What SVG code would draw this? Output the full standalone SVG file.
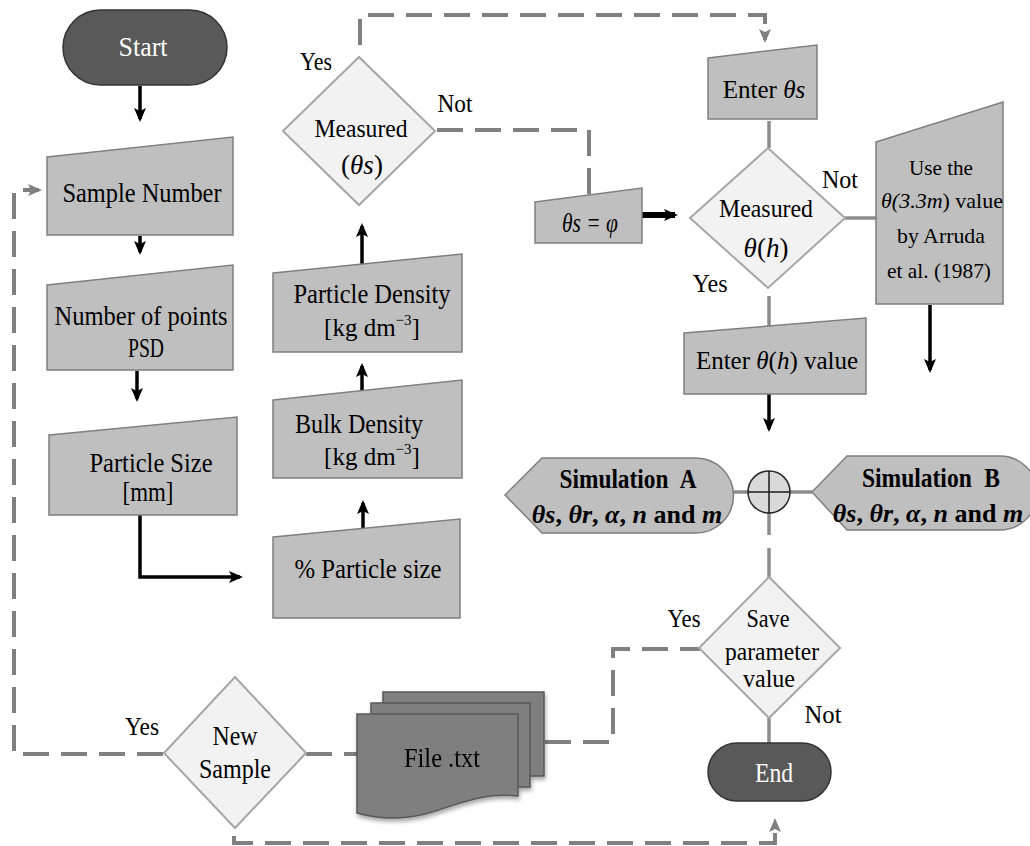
<svg xmlns="http://www.w3.org/2000/svg" width="1030" height="846" viewBox="0 0 1030 846">
<defs>
<marker id="ab" markerUnits="userSpaceOnUse" markerWidth="14" markerHeight="14" viewBox="0 0 14 14" refX="11" refY="7" orient="auto"><path d="M0,1 L14,7 L0,13 L3,7 Z" fill="#000"/></marker>
<marker id="ag" markerUnits="userSpaceOnUse" markerWidth="14" markerHeight="14" viewBox="0 0 14 14" refX="11" refY="7" orient="auto"><path d="M0,1 L14,7 L0,13 L3,7 Z" fill="#808080"/></marker>
<filter id="sh" x="-10%" y="-10%" width="130%" height="140%"><feDropShadow dx="1" dy="3" stdDeviation="2" flood-color="#000" flood-opacity="0.35"/></filter>
</defs>
<style>
text{font-family:'Liberation Serif','DejaVu Serif',serif}
.t{font-size:27px;fill:#000;text-anchor:middle}
.d{font-size:25px}
.m{font-size:25px}
.u{font-size:22px}
.w{fill:#fff;font-size:28px}
.sb{font-weight:bold;font-size:28px}
.s2{font-size:26px}
.i{font-style:italic}
.sup{font-size:15px}
.io{fill:#bfbfbf;stroke:#7f7f7f;stroke-width:1.5}
.dm{fill:#f2f2f2;stroke:#a6a6a6;stroke-width:2}
.term{fill:#595959;stroke:#333;stroke-width:1.5}
.blk{fill:none;stroke:#000;stroke-width:3.5;marker-end:url(#ab)}
.gs{fill:none;stroke:#8c8c8c;stroke-width:3.5}
.gd{fill:none;stroke:#808080;stroke-width:4;stroke-dasharray:26 12}
.fp{fill:#7f7f7f;stroke:#595959;stroke-width:1.5}
</style>

<g id="connectors">
<path class="blk" d="M140,86 V119"/>
<path class="blk" d="M140,236 V252"/>
<path class="blk" d="M137,371 V399"/>
<path class="blk" d="M140,515 V577 H240"/>
<path class="blk" d="M363,528 V503"/>
<path class="blk" d="M362,391 V366"/>
<path class="blk" d="M362,264 V226"/>
<path class="blk" style="stroke-width:6" d="M642,215 H675"/>
<path class="blk" d="M930,305 V370"/>
<path class="blk" d="M769,394 V429"/>
<path class="gs" d="M769,121 V148"/>
<path class="gs" d="M845,218 H877"/>
<path class="gs" d="M769,296 V326"/>
<path class="gs" d="M733,492 H749"/>
<path class="gs" d="M789,492 H812"/>
<path class="gs" d="M769,512 V535"/>
<path class="gs" d="M769,548 V578"/>
<path class="gs" d="M769,718 V743"/>
<path class="gd" style="marker-end:url(#ag)" d="M360,45 V15 H765 V40"/>
<path class="gd" d="M437,130 H589 V195"/>
<path class="gd" style="marker-end:url(#ag)" d="M163,754 H14 V190 H39"/>
<path class="gd" d="M306,754 H357"/>
<path class="gd" d="M545,742 H613 V649 H700"/>
<path class="gd" style="marker-end:url(#ag)" d="M234,836 V843 H775 V821"/>
</g>

<g id="start">
<rect class="term" x="63" y="10" width="164" height="75" rx="37.5"/>
<text class="t w" x="143" y="56" textLength="49" lengthAdjust="spacingAndGlyphs">Start</text>
</g>

<g id="sample-number">
<polygon class="io" points="47,157 233,137 233,235 47,235"/>
<text class="t" x="142" y="202" textLength="159" lengthAdjust="spacingAndGlyphs">Sample Number</text>
</g>

<g id="number-points">
<polygon class="io" points="47,285 233,265 233,370 47,370"/>
<text class="t" x="141" y="325" textLength="173" lengthAdjust="spacingAndGlyphs">Number of points</text>
<text class="t" x="146" y="357" textLength="36" lengthAdjust="spacingAndGlyphs">PSD</text>
</g>

<g id="particle-size">
<polygon class="io" points="49,435 237,417 237,515 49,515"/>
<text class="t" x="151" y="472" textLength="123" lengthAdjust="spacingAndGlyphs">Particle Size</text>
<text class="t" x="148" y="501" textLength="51" lengthAdjust="spacingAndGlyphs">[mm]</text>
</g>

<g id="pct-particle-size">
<polygon class="io" points="273,537 460,519 460,618 273,618"/>
<text class="t" x="368" y="578" textLength="147" lengthAdjust="spacingAndGlyphs">% Particle size</text>
</g>

<g id="bulk-density">
<polygon class="io" points="273,400 462,380 462,478 273,478"/>
<text class="t" x="359" y="433" textLength="128" lengthAdjust="spacingAndGlyphs">Bulk Density</text>
<text class="t m" x="372" y="465">[kg dm<tspan class="sup" dy="-11">−3</tspan><tspan dy="11">]</tspan></text>
</g>

<g id="particle-density">
<polygon class="io" points="273,273 462,254 462,352 273,352"/>
<text class="t" x="372" y="303" textLength="157" lengthAdjust="spacingAndGlyphs">Particle Density</text>
<text class="t m" x="372" y="336">[kg dm<tspan class="sup" dy="-11">−3</tspan><tspan dy="11">]</tspan></text>
</g>

<g id="measured-thetas">
<polygon class="dm" points="283,131 359,57 435,131 359,205"/>
<text class="t d" x="361" y="137" textLength="93" lengthAdjust="spacingAndGlyphs">Measured</text>
<text class="t" x="362" y="174">(<tspan class="i">θs</tspan>)</text>
<text class="t d" x="316" y="70" textLength="32" lengthAdjust="spacingAndGlyphs">Yes</text>
<text class="t d" x="455" y="112" textLength="35" lengthAdjust="spacingAndGlyphs">Not</text>
</g>

<g id="thetas-phi">
<polygon class="io" points="535,202 642,188 642,243 535,243"/>
<text class="t i" x="590" y="232" textLength="56" lengthAdjust="spacingAndGlyphs" style="font-size:28px">θs = φ</text>
</g>

<g id="enter-thetas">
<polygon class="io" points="708,58 817,45 817,119 708,119"/>
<text class="t m" x="764" y="98">Enter <tspan class="i">θs</tspan></text>
</g>

<g id="measured-thetah">
<polygon class="dm" points="690,218 768,148 845,218 768,288"/>
<text class="t d" x="766" y="217" textLength="94" lengthAdjust="spacingAndGlyphs">Measured</text>
<text class="t" x="766" y="257"><tspan class="i">θ</tspan>(<tspan class="i">h</tspan>)</text>
<text class="t d" x="840" y="188" textLength="36" lengthAdjust="spacingAndGlyphs">Not</text>
<text class="t d" x="710" y="292" textLength="35" lengthAdjust="spacingAndGlyphs">Yes</text>
</g>

<g id="use-the">
<polygon class="io" points="876,142 1003,102 1003,304 876,304"/>
<text class="t u" x="941" y="175" textLength="64" lengthAdjust="spacingAndGlyphs">Use the</text>
<text class="t u" x="942" y="208"><tspan class="i">θ(3.3m</tspan>) value</text>
<text class="t u" x="941" y="243" textLength="88" lengthAdjust="spacingAndGlyphs">by Arruda</text>
<text class="t u" x="939" y="278" textLength="104" lengthAdjust="spacingAndGlyphs">et al. (1987)</text>
</g>

<g id="enter-thetah">
<polygon class="io" points="684,333 866,318 866,394 684,394"/>
<text class="t m" x="777" y="369">Enter <tspan class="i">θ</tspan>(<tspan class="i">h</tspan>) value</text>
</g>

<g id="simulation-a">
<path class="io" d="M505,495 L542,458 H696 A37.5,37.5 0 0 1 696,533 H542 Z"/>
<text class="t sb" x="628" y="488" textLength="137" lengthAdjust="spacingAndGlyphs" style="word-spacing:8px">Simulation A</text>
<text class="t sb s2" x="627" y="523"><tspan class="i">θs</tspan>, <tspan class="i">θr</tspan>, <tspan class="i">α</tspan>, <tspan class="i">n</tspan> and <tspan class="i">m</tspan></text>
</g>

<g id="junction">
<circle cx="769" cy="492" r="21" fill="#d9d9d9" stroke="#262626" stroke-width="1.5"/>
<path d="M769,471 V513 M748,492 H790" stroke="#1a1a1a" stroke-width="1.5"/>
</g>

<g id="simulation-b">
<path class="io" d="M812,492 L847,456 H1000 A37,37 0 0 1 1000,530 H847 Z"/>
<text class="t sb" x="931" y="487" textLength="138" lengthAdjust="spacingAndGlyphs" style="word-spacing:8px">Simulation B</text>
<text class="t sb s2" x="928" y="522"><tspan class="i">θs</tspan>, <tspan class="i">θr</tspan>, <tspan class="i">α</tspan>, <tspan class="i">n</tspan> and <tspan class="i">m</tspan></text>
</g>

<g id="save-parameter">
<polygon class="dm" points="699,648 769,577 840,648 769,718"/>
<text class="t d" x="768" y="627" textLength="43" lengthAdjust="spacingAndGlyphs">Save</text>
<text class="t d" x="772" y="660" textLength="94" lengthAdjust="spacingAndGlyphs">parameter</text>
<text class="t d" x="769" y="687" textLength="52" lengthAdjust="spacingAndGlyphs">value</text>
<text class="t d" x="684" y="627" textLength="33" lengthAdjust="spacingAndGlyphs">Yes</text>
<text class="t d" x="823" y="723" textLength="37" lengthAdjust="spacingAndGlyphs">Not</text>
</g>

<g id="end">
<rect class="term" x="708" y="743" width="123" height="58" rx="29"/>
<text class="t w" x="774" y="782" textLength="38" lengthAdjust="spacingAndGlyphs">End</text>
</g>

<g id="new-sample">
<polygon class="dm" points="164,753 235,677 306,753 235,828"/>
<text class="t" x="235" y="745" textLength="45" lengthAdjust="spacingAndGlyphs">New</text>
<text class="t" x="235" y="778" textLength="72" lengthAdjust="spacingAndGlyphs">Sample</text>
<text class="t d" x="142" y="735" textLength="34" lengthAdjust="spacingAndGlyphs">Yes</text>
</g>

<g id="file-txt" filter="url(#sh)">
<rect class="fp" x="383" y="692" width="161" height="84"/>
<rect class="fp" x="371" y="703" width="159" height="84"/>
<path class="fp" d="M357,714 H518 V796 C480,792 455,806 425,814 C400,820 378,819 357,813 Z"/>
<text class="t" x="442" y="767" textLength="76" lengthAdjust="spacingAndGlyphs" style="font-size:28px">File .txt</text>
</g>
</svg>
